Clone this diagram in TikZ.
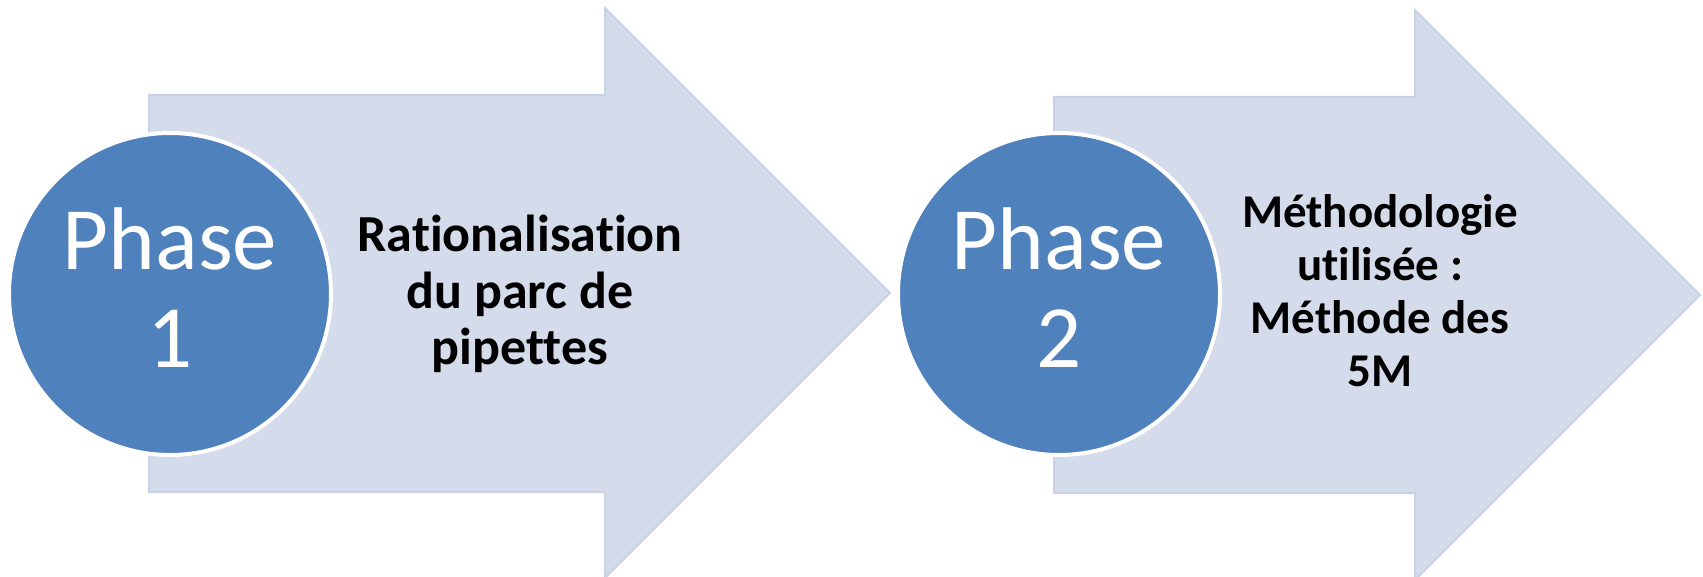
\documentclass[tikz,border=0pt]{standalone}
\usepackage{fontspec}
\setmainfont{Carlito}[Ligatures={NoCommon,NoContextual}]
\definecolor{arrowfill}{HTML}{D4DBEA}
\definecolor{arrowline}{HTML}{C9D2E4}
\definecolor{circfill}{HTML}{4F81BD}
\tikzset{
  bigarrow/.style={fill=arrowfill, draw=arrowline, line width=2pt, line join=miter},
  phasecirc/.style={circle, fill=circfill, draw=white, line width=4pt, minimum size=322pt, inner sep=0pt},
  phasetext/.style={text=white, align=center, inner sep=0pt, font=\fontsize{89}{98}\selectfont},
  desc/.style={text=black, align=center, inner sep=0pt, font=\bfseries\fontsize{52}{56.5}\selectfont},
  desctwo/.style={text=black, align=center, inner sep=0pt, font=\bfseries\fontsize{47}{53}\selectfont}
}
\begin{document}
\begin{tikzpicture}[x=1pt,y=-1pt]
\useasboundingbox (0,0) rectangle (1703,577);
% arrow 1
\draw[bigarrow] (149,95) -- (605,95) -- (605,8) -- (890,293) -- (605,578) -- (605,492) -- (149,492) -- cycle;
% arrow 2
\draw[bigarrow] (1054,97) -- (1415,97) -- (1415,10) -- (1700,295) -- (1415,580) -- (1415,493) -- (1054,493) -- cycle;
% circles
\node[phasecirc] (c1) at (170,294) {};
\node[phasecirc] (c2) at (1059,294) {};
\node[phasetext] (p1) at (170,288) {Phase\\1};
\node[phasetext] (p2) at (1059,288) {Phase\\2};
% descriptions
\node[desc] (d1) at (520,294) {Rationalisation\\du parc de\\pipettes};
\node[desctwo] (d2) at (1380,291) {Méthodologie\\utilisée :\\Méthode des\\5M};
\end{tikzpicture}
\end{document}
